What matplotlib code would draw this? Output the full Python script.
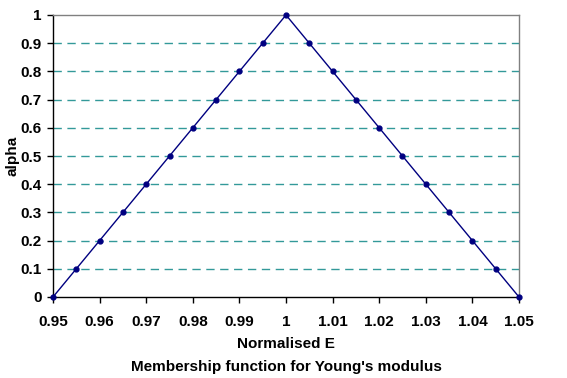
import matplotlib
matplotlib.use("Agg")
import matplotlib.pyplot as plt

plt.rcParams["font.family"] = ["Liberation Sans", "DejaVu Sans"]
plt.rcParams["font.weight"] = "bold"

# membership function data
norm_e = [0.95, 0.955, 0.96, 0.965, 0.97, 0.975, 0.98, 0.985, 0.99, 0.995, 1.0,
          1.005, 1.01, 1.015, 1.02, 1.025, 1.03, 1.035, 1.04, 1.045, 1.05]
alpha = [0.0, 0.1, 0.2, 0.3, 0.4, 0.5, 0.6, 0.7, 0.8, 0.9, 1.0,
         0.9, 0.8, 0.7, 0.6, 0.5, 0.4, 0.3, 0.2, 0.1, 0.0]
x_ticks = [0.95, 0.96, 0.97, 0.98, 0.99, 1.0, 1.01, 1.02, 1.03, 1.04, 1.05]
x_tick_labels = ["0.95", "0.96", "0.97", "0.98", "0.99", "1", "1.01", "1.02", "1.03", "1.04", "1.05"]
y_ticks = [0, 0.1, 0.2, 0.3, 0.4, 0.5, 0.6, 0.7, 0.8, 0.9, 1.0]
y_tick_labels = ["0", "0.1", "0.2", "0.3", "0.4", "0.5", "0.6", "0.7", "0.8", "0.9", "1"]

fig = plt.figure(figsize=(5.67, 3.78), dpi=100)
ax = fig.add_axes([53 / 567, 1 - 297 / 378, (519 - 53) / 567, (297 - 15) / 378])

for y in y_ticks[1:-1]:
    ax.axhline(y, color="#008080", linewidth=1, linestyle=(0, (6, 4)), alpha=0.8, zorder=1)

ax.plot(norm_e, alpha, color="#000080", linewidth=1, marker="o", markersize=3.5, zorder=3, clip_on=False)

ax.set_xlim(0.95, 1.05)
ax.set_ylim(0, 1)
ax.set_xticks(x_ticks)
ax.set_xticklabels(x_tick_labels, fontsize=11, fontweight="bold")
ax.set_yticks(y_ticks)
ax.set_yticklabels(y_tick_labels, fontsize=11, fontweight="bold")
ax.tick_params(direction="out", length=4, width=1, colors="black")
ax.tick_params(axis="x", pad=9)
ax.tick_params(axis="y", pad=4)

for side in ["top", "right"]:
    ax.spines[side].set_color("#808080")
    ax.spines[side].set_linewidth(1)
for side in ["left", "bottom"]:
    ax.spines[side].set_color("black")
    ax.spines[side].set_linewidth(1)

fig.text(0.5 * (53 + 519) / 567, 1 - 344 / 378, "Normalised E",
         ha="center", va="center", fontsize=11, fontweight="bold")
fig.text(13 / 567, 1 - 156 / 378, "alpha", rotation=90,
         ha="center", va="center", fontsize=11, fontweight="bold")
fig.text(0.5 * (53 + 519) / 567, 1 - 367 / 378, "Membership function for Young's modulus",
         ha="center", va="center", fontsize=11, fontweight="bold")

fig.savefig("out.png", dpi=100)
